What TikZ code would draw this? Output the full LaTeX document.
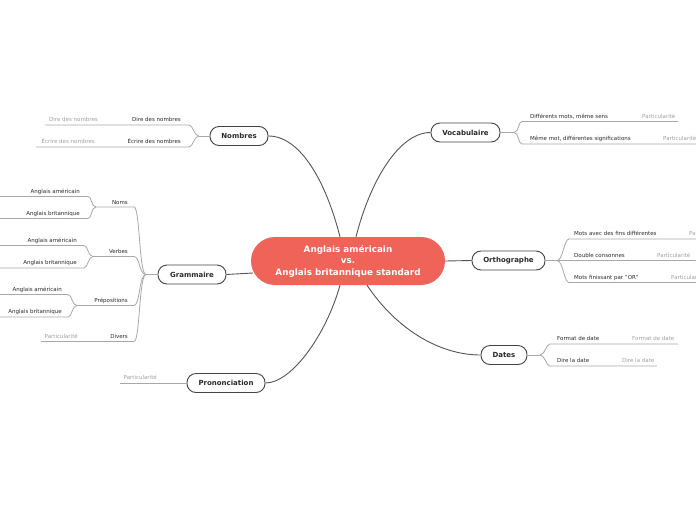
\documentclass[tikz,border=0pt]{standalone}
\usepackage{fontspec}
\setmainfont{DejaVu Sans}
\definecolor{redc}{HTML}{F06359}
\definecolor{topicbd}{HTML}{444444}
\definecolor{connc}{HTML}{555555}
\definecolor{blc}{HTML}{A8A8A8}
\definecolor{txtc}{HTML}{2A2A2A}
\definecolor{leafc}{HTML}{A0A0A0}
\begin{document}
\begin{tikzpicture}[x=1pt,y=-1pt,
  rootbox/.style={rounded corners=24pt, fill=redc, text=white, font=\bfseries\fontsize{8.8}{11.5}\selectfont, minimum width=194pt, minimum height=48pt, align=center, inner sep=0pt},
  topic/.style={draw=topicbd, line width=0.9pt, rounded corners=9pt, fill=white, minimum height=19pt, inner sep=0pt, font=\bfseries\fontsize{7}{8}\selectfont, text=txtc},
  sub/.style={inner sep=0pt, font=\fontsize{5.5}{6.5}\selectfont, text=txtc},
  leaf/.style={inner sep=0pt, font=\fontsize{5.5}{6.5}\selectfont, text=leafc},
  conn/.style={draw=connc, line width=0.9pt},
  bline/.style={draw=blc, line width=0.8pt}]
\useasboundingbox (0,0) rectangle (696,520);
\fill[white] (0,0) rectangle (696,520);

% root and topics
\node[rootbox] (root) at (348,261) {Anglais américain\\vs.\\Anglais britannique standard};
\node[topic, minimum width=58pt] (nombres) at (239,136) {Nombres};
\node[topic, minimum width=68pt] (gram) at (192,274.5) {Grammaire};
\node[topic, minimum width=78pt] (pron) at (226,383) {Prononciation};
\node[topic, minimum width=69pt] (vocab) at (465.5,132.5) {Vocabulaire};
\node[topic, minimum width=73pt] (ortho) at (508.5,260.5) {Orthographe};
\node[topic, minimum width=46pt] (dates) at (504,355) {Dates};

% main connectors
\draw[conn] ([shift={(-8,0)}]root.north) .. controls +(-14,-55) and +(32,0) .. (nombres.east);
\draw[conn] ([shift={(8,0)}]root.north) .. controls +(14,-55) and +(-32,0) .. (vocab.west);
\draw[conn] ([shift={(-8,0)}]root.south) .. controls +(-14,50) and +(26,0) .. (pron.east);
\draw[conn] ([shift={(19,0)}]root.south) .. controls +(30,45) and +(-40,0) .. (dates.west);
\draw[conn] ([shift={(2,12)}]root.west) -- (gram.east);
\draw[conn] (root.east) -- (ortho.west);

% ---------- Nombres ----------
\coordinate (jN) at (199,136);
\draw[bline] (nombres.west) -- (jN);
\node[sub, anchor=base east] (n1) at (181,121.5) {Dire des nombres};
\node[leaf, anchor=base east] (n1a) at (98,121.5) {Dire des nombres};
\coordinate (n1r) at (189,125); \coordinate (n1l) at (45,125);
\draw[bline] (jN) .. controls +(-5,0) and +(4,0) .. (n1r) -- (n1l);
\node[sub, anchor=base east] (n2) at (181,143.5) {Écrire des nombres};
\node[leaf, anchor=base east] (n2a) at (95,143.5) {Écrire des nombres};
\coordinate (n2r) at (189,147); \coordinate (n2l) at (36,147);
\draw[bline] (jN) .. controls +(-5,0) and +(4,0) .. (n2r) -- (n2l);

% ---------- Grammaire ----------
\coordinate (jG) at (146,274.5);
\draw[bline] (gram.west) -- (jG);
% Noms
\node[sub, anchor=base east] (noms) at (128,204) {Noms};
\coordinate (nomsR) at (134,207); \coordinate (nomsJ) at (96,207);
\draw[bline] (jG) .. controls +(-7,0) and +(6,0) .. (nomsR) -- (nomsJ);
\node[sub, anchor=base east] (noms1) at (80,193) {Anglais américain};
\coordinate (noms1R) at (88,196.5); \coordinate (noms1L) at (0,196.5);
\draw[bline] (nomsJ) .. controls +(-5,0) and +(4,0) .. (noms1R) -- (noms1L);
\node[sub, anchor=base east] (noms2) at (80,215) {Anglais britannique};
\coordinate (noms2R) at (88,218.5); \coordinate (noms2L) at (0,218.5);
\draw[bline] (nomsJ) .. controls +(-5,0) and +(4,0) .. (noms2R) -- (noms2L);
% Verbes
\node[sub, anchor=base east] (verbes) at (128,253) {Verbes};
\coordinate (verbR) at (134,256.5); \coordinate (verbJ) at (93,256.5);
\draw[bline] (jG) .. controls +(-7,0) and +(6,0) .. (verbR) -- (verbJ);
\node[sub, anchor=base east] (verb1) at (77,242) {Anglais américain};
\coordinate (verb1R) at (84,245.5); \coordinate (verb1L) at (0,245.5);
\draw[bline] (verbJ) .. controls +(-5,0) and +(4,0) .. (verb1R) -- (verb1L);
\node[sub, anchor=base east] (verb2) at (77,264.5) {Anglais britannique};
\coordinate (verb2R) at (84,268); \coordinate (verb2L) at (0,268);
\draw[bline] (verbJ) .. controls +(-5,0) and +(4,0) .. (verb2R) -- (verb2L);
% Prepositions
\node[sub, anchor=base east] (prep) at (128,302) {Prépositions};
\coordinate (prepR) at (134,305.5); \coordinate (prepJ) at (77,305.5);
\draw[bline] (jG) .. controls +(-7,0) and +(6,0) .. (prepR) -- (prepJ);
\node[sub, anchor=base east] (prep1) at (62,291) {Anglais américain};
\coordinate (prep1R) at (68,294.5); \coordinate (prep1L) at (0,294.5);
\draw[bline] (prepJ) .. controls +(-5,0) and +(4,0) .. (prep1R) -- (prep1L);
\node[sub, anchor=base east] (prep2) at (62,313.5) {Anglais britannique};
\coordinate (prep2R) at (68,317); \coordinate (prep2L) at (0,317);
\draw[bline] (prepJ) .. controls +(-5,0) and +(4,0) .. (prep2R) -- (prep2L);
% Divers
\node[sub, anchor=base east] (divers) at (128,338) {Divers};
\node[leaf, anchor=base east] (diversa) at (78,338) {Particularité};
\coordinate (divR) at (134,341.5); \coordinate (divL) at (41,341.5);
\draw[bline] (jG) .. controls +(-7,0) and +(6,0) .. (divR) -- (divL);

% ---------- Prononciation ----------
\node[leaf, anchor=base east] (prona) at (157,379.5) {Particularité};
\coordinate (pronL) at (120,383);
\draw[bline] (pron.west) -- (pronL);

% ---------- Vocabulaire ----------
\coordinate (jV) at (514,132.5);
\draw[bline] (vocab.east) -- (jV);
\node[sub, anchor=base west] (v1) at (530,118) {Différents mots, même sens};
\node[leaf, anchor=base west] (v1a) at (642,118) {Particularité};
\coordinate (v1L) at (522,121.5); \coordinate (v1R) at (678,121.5);
\draw[bline] (jV) .. controls +(5,0) and +(-4,0) .. (v1L) -- (v1R);
\node[sub, anchor=base west] (v2) at (530,140.5) {Même mot, différentes significations};
\node[leaf, anchor=base west] (v2a) at (663,140.5) {Particularité};
\coordinate (v2L) at (522,144); \coordinate (v2R) at (700,144);
\draw[bline] (jV) .. controls +(5,0) and +(-4,0) .. (v2L) -- (v2R);

% ---------- Orthographe ----------
\coordinate (jO) at (557,260.5);
\draw[bline] (ortho.east) -- (jO);
\node[sub, anchor=base west] (o1) at (574,235.5) {Mots avec des fins différentes};
\node[leaf, anchor=base west] (o1a) at (689,235.5) {Particularité};
\coordinate (o1L) at (569,239); \coordinate (o1R) at (700,239);
\draw[bline] (jO) .. controls +(6,0) and +(-5,0) .. (o1L) -- (o1R);
\node[sub, anchor=base west] (o2) at (574,257.5) {Double consonnes};
\node[leaf, anchor=base west] (o2a) at (657,257.5) {Particularité};
\coordinate (o2R) at (700,260.5);
\draw[bline] (jO) -- (o2R);
\node[sub, anchor=base west] (o3) at (574,279) {Mots finissant par "OR"};
\node[leaf, anchor=base west] (o3a) at (671,279) {Particularité};
\coordinate (o3L) at (569,282.5); \coordinate (o3R) at (700,282.5);
\draw[bline] (jO) .. controls +(6,0) and +(-5,0) .. (o3L) -- (o3R);

% ---------- Dates ----------
\coordinate (jD) at (540,355);
\draw[bline] (dates.east) -- (jD);
\node[sub, anchor=base west] (d1) at (557,340.5) {Format de date};
\node[leaf, anchor=base west] (d1a) at (632,340.5) {Format de date};
\coordinate (d1L) at (550,344); \coordinate (d1R) at (678,344);
\draw[bline] (jD) .. controls +(5,0) and +(-4,0) .. (d1L) -- (d1R);
\node[sub, anchor=base west] (d2) at (557,362.5) {Dire la date};
\node[leaf, anchor=base west] (d2a) at (622,362.5) {Dire la date};
\coordinate (d2L) at (550,366); \coordinate (d2R) at (657,366);
\draw[bline] (jD) .. controls +(5,0) and +(-4,0) .. (d2L) -- (d2R);
\end{tikzpicture}
\end{document}
